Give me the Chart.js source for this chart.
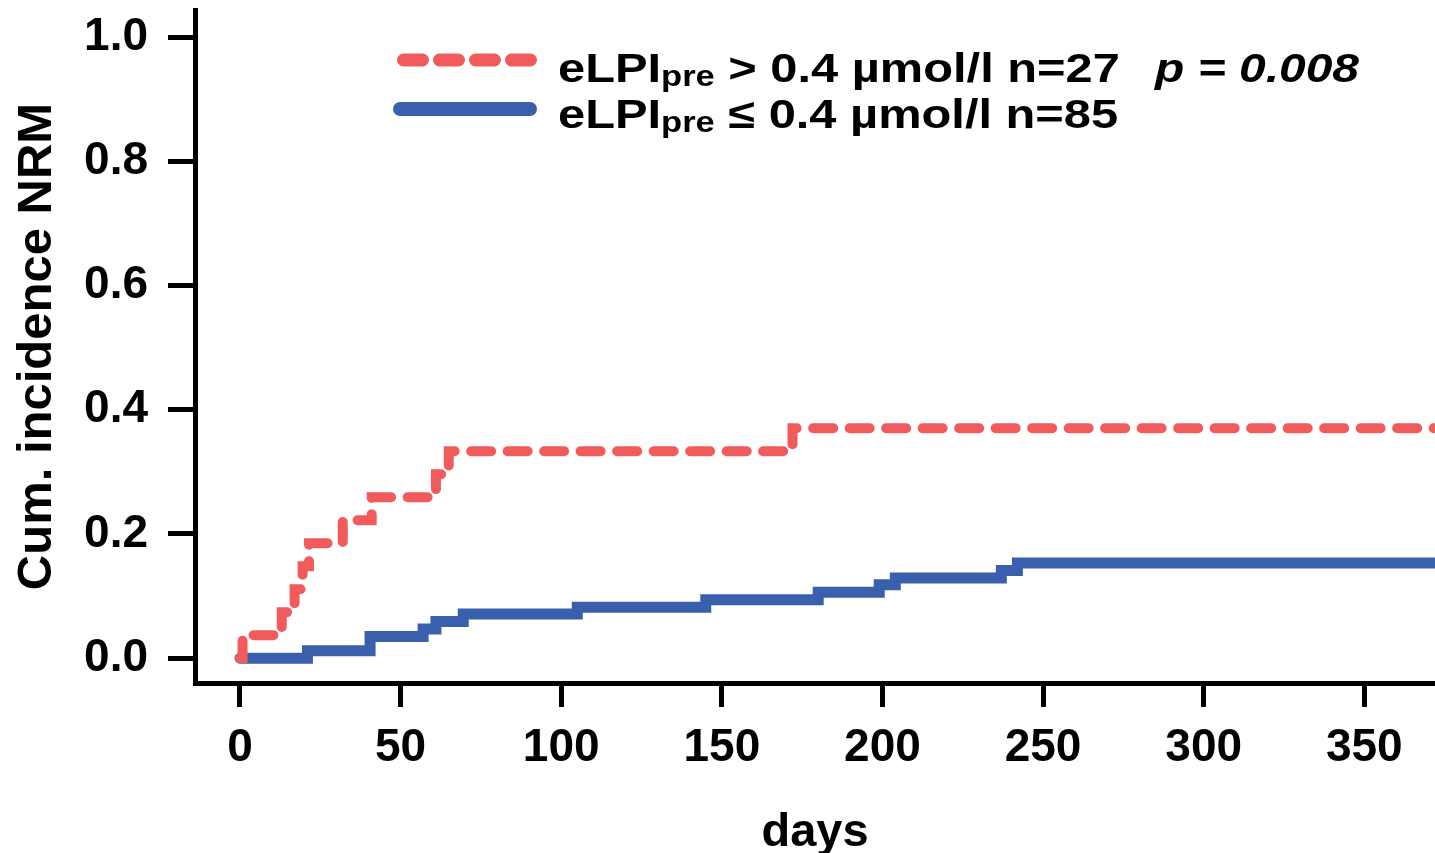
<!DOCTYPE html>
<html>
<head>
<meta charset="utf-8">
<title>Cumulative incidence NRM</title>
<script src="https://cdn.jsdelivr.net/npm/chart.js@4.4.1/dist/chart.umd.min.js"></script>
<style>
    html, body { margin: 0; padding: 0; background: #fff; overflow: hidden; }
    #wrap { position: relative; width: 1435px; height: 853px; }
    .leg {
        position: absolute;
        font-family: "Liberation Sans", Arial, sans-serif;
        font-weight: bold;
        font-size: 41px;
        line-height: 46px;
        color: #000;
        white-space: nowrap;
        transform: scaleX(1.19);
        transform-origin: left top;
    }
    .leg sub { font-size: 29px; vertical-align: -4px; line-height: 0; }
    #legLines { position: absolute; left: 0; top: 0; pointer-events: none; }
</style>
</head>
<body>
<div id="wrap">
    <canvas id="kmChart"></canvas>
    <svg id="legLines" width="1435" height="853">
        <line x1="403.5" y1="60" x2="530.5" y2="60" stroke="#f25b5b" stroke-width="13" stroke-linecap="round" stroke-dasharray="19 17"/>
        <line x1="400" y1="109" x2="530" y2="109" stroke="#3a5fad" stroke-width="14" stroke-linecap="round"/>
    </svg>
    <div class="leg" style="left:558px; top:45px">eLPI<sub>pre</sub> &gt; 0.4 µmol/l n=27</div>
    <div class="leg" style="left:558px; top:91px">eLPI<sub>pre</sub> ≤ 0.4 µmol/l n=85</div>
    <div class="leg" style="left:1155px; top:45px; font-style:italic; transform:scaleX(1.17)">p = 0.008</div>
</div>
<script>
// Step curves (day of event, cumulative incidence after it)
const redDays = [0, 0.8, 13, 17, 19.5, 21.5, 32, 41, 61, 65, 172, 372];
const redCum  = [0, 0.037, 0.074, 0.111, 0.148, 0.185, 0.222, 0.259, 0.296, 0.333, 0.370, 0.370];

const blueDays = [0, 21, 40.5, 57, 61, 69.5, 105, 145, 180, 199, 204, 237, 242, 372];
const blueCum  = [0, 0.012, 0.035, 0.047, 0.059, 0.071, 0.082, 0.094, 0.106, 0.118, 0.129, 0.141, 0.153, 0.153];

// Tick labels
const xTicks = [0, 50, 100, 150, 200, 250, 300, 350];
const yTicks = [0, 0.2, 0.4, 0.6, 0.8, 1.0];

const fontFamily = '"Liberation Sans", Arial, sans-serif';

function toPoints(days, values) {
    return days.map((d, i) => ({ x: d, y: values[i] }));
}

const ctx = document.getElementById('kmChart').getContext('2d');

new Chart(ctx, {
    type: 'line',
    data: {
        datasets: [
            {
                label: 'eLPIpre > 0.4 µmol/l n=27',
                data: toPoints(redDays, redCum),
                borderColor: '#f25b5b',
                borderWidth: 10,
                borderDash: [20, 16.5],
                borderCapStyle: 'round',
                stepped: 'before',
                pointRadius: 0,
                fill: false
            },
            {
                label: 'eLPIpre ≤ 0.4 µmol/l n=85',
                data: toPoints(blueDays, blueCum),
                borderColor: '#3a5fad',
                borderWidth: 11,
                borderCapStyle: 'round',
                stepped: 'before',
                pointRadius: 0,
                fill: false
            }
        ]
    },
    options: {
        responsive: true,
        maintainAspectRatio: false,
        animation: false,
        layout: { padding: { top: 10, left: 0, right: 0, bottom: 0 } },
        plugins: {
            legend: { display: false },
            tooltip: { enabled: false }
        },
        scales: {
            x: {
                type: 'linear',
                min: -14,
                max: 372,
                afterBuildTicks: s => { s.ticks = xTicks.map(v => ({ value: v })); },
                afterFit: s => { s.height = 170; s.paddingLeft = 0; s.paddingRight = 0; },
                border: { display: true, color: '#000', width: 5 },
                grid: {
                    display: true,
                    drawOnChartArea: false,
                    drawTicks: true,
                    tickLength: 24,
                    tickWidth: 5,
                    tickColor: '#000'
                },
                ticks: {
                    color: '#000',
                    padding: 14,
                    maxRotation: 0,
                    autoSkip: false,
                    font: { family: fontFamily, size: 46, weight: 'bold' },
                    callback: v => String(v)
                },
                title: {
                    display: true,
                    text: 'days',
                    color: '#000',
                    padding: { top: 0, bottom: -8 },
                    font: { family: fontFamily, size: 47, weight: 'bold' }
                }
            },
            y: {
                min: -0.04,
                max: 1.0435,
                afterBuildTicks: s => { s.ticks = yTicks.map(v => ({ value: v })); },
                afterFit: s => { s.width = 195; s.paddingTop = 0; s.paddingBottom = 0; },
                border: { display: true, color: '#000', width: 5 },
                grid: {
                    display: true,
                    drawOnChartArea: false,
                    drawTicks: true,
                    tickLength: 27,
                    tickWidth: 5,
                    tickColor: '#000'
                },
                ticks: {
                    color: '#000',
                    padding: 20,
                    font: { family: fontFamily, size: 46, weight: 'bold' },
                    callback: v => v.toFixed(1)
                },
                title: {
                    display: true,
                    text: 'Cum. incidence NRM',
                    color: '#000',
                    padding: { top: 8, bottom: 0 },
                    font: { family: fontFamily, size: 49, weight: 'bold' }
                }
            }
        }
    }
});
</script>
</body>
</html>
